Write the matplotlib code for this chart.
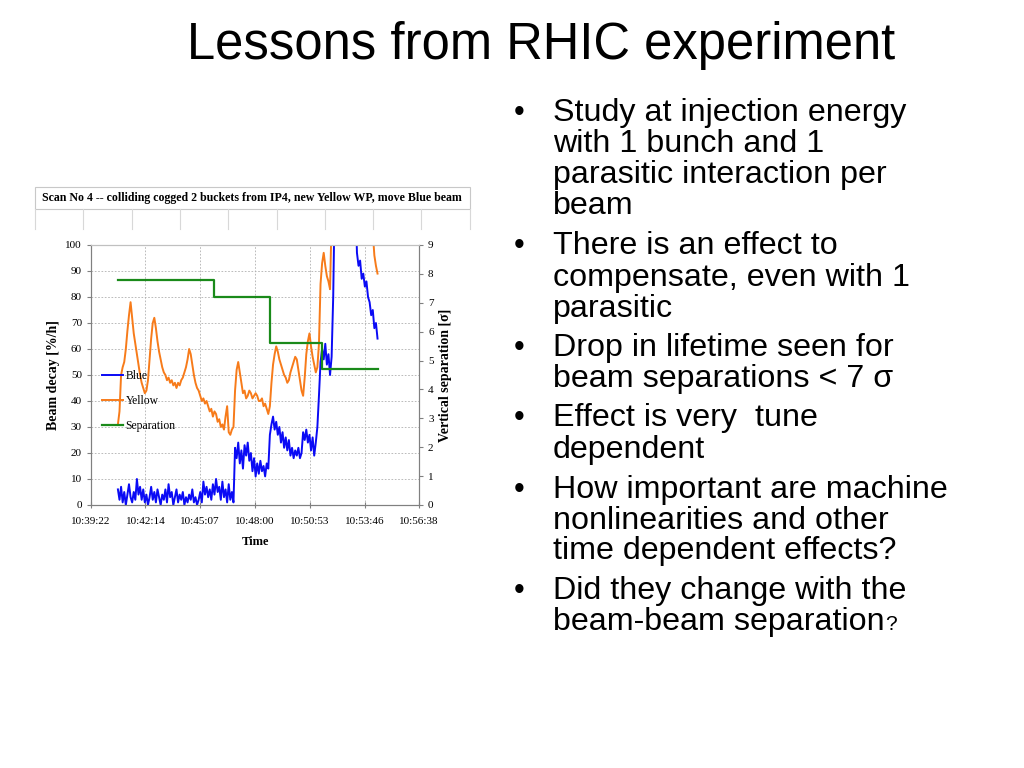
import numpy as np
import matplotlib
matplotlib.use("Agg")
import matplotlib.pyplot as plt
from matplotlib.patches import Rectangle
from matplotlib.lines import Line2D

# time axis (seconds after 10:39:22)
tick_labels = ["10:39:22", "10:42:14", "10:45:07", "10:48:00", "10:50:53", "10:53:46", "10:56:38"]
tick_secs = [0, 172, 345, 518, 691, 864, 1036]

# logger samples every 5 s starting at 10:40:47
t = np.arange(85, 910, 5)

yellow = [31, 36, 50, 53, 55, 60, 67, 73, 78, 72,
          66, 62, 58, 54, 50, 47, 45, 43, 44, 48,
          56, 64, 70, 72, 68, 63, 59, 56, 53, 51,
          50, 48, 49, 47, 48, 46, 47, 45, 47, 46,
          48, 49, 51, 53, 56, 60, 58, 54, 50, 47,
          45, 44, 42, 40, 41, 39, 40, 38, 36, 37,
          34, 36, 35, 32, 33, 30, 31, 29, 34, 38,
          28, 27, 29, 30, 44, 52, 55, 51, 47, 43,
          44, 41, 42, 44, 43, 41, 42, 43, 42, 40,
          40, 41, 38, 39, 37, 35, 38, 47, 54, 58,
          61, 59, 56, 54, 52, 50, 49, 47, 48, 51,
          53, 55, 57, 56, 52, 48, 44, 42, 49, 58,
          63, 66, 61, 57, 54, 51, 53, 62, 85, 93,
          97, 92, 88, 86, 83, 110, 120, 120, 120, 120,
          120, 120, 120, 120, 120, 120, 120, 120, 120, 120,
          120, 120, 120, 120, 120, 120, 120, 120, 120, 120,
          120, 105, 96, 92, 89]

blue = [6, 2, 7, 1, 5, 0, 4, 8, 3, 1,
        5, 2, 10, 4, 7, 2, 6, 1, 4, 0,
        3, 7, 2, 5, 1, 6, 3, 0, 4, 2,
        6, 1, 8, 3, 5, 0, 3, 6, 1, 4,
        2, 5, 0, 3, 1, 4, 2, 6, 1, 3,
        0, 2, 5, 1, 9, 4, 7, 3, 6, 2,
        8, 4, 10, 5, 7, 2, 9, 3, 6, 1,
        8, 2, 5, 1, 22, 18, 24, 16, 21, 14,
        23, 19, 24, 17, 20, 13, 18, 11, 16, 12,
        17, 13, 15, 11, 16, 14, 27, 31, 34, 29,
        32, 27, 30, 24, 28, 22, 26, 21, 25, 19,
        22, 18, 21, 19, 22, 18, 20, 28, 25, 29,
        24, 27, 21, 26, 19, 24, 30, 42, 55, 60,
        56, 62, 54, 58, 50, 57, 80, 120, 120, 120,
        120, 120, 120, 120, 120, 120, 120, 120, 120, 120,
        120, 97, 92, 94, 87, 89, 84, 86, 80, 78,
        73, 75, 68, 70, 64]

sep_t = [85, 389, 565, 730, 907]
sep_val = [7.8, 7.2, 5.6, 4.7, 4.7]

bullets = [
    ["Study at injection energy", "with 1 bunch and 1", "parasitic interaction per", "beam"],
    ["There is an effect to", "compensate, even with 1", "parasitic"],
    ["Drop in lifetime seen for", "beam separations < 7 σ"],
    ["Effect is very  tune", "dependent"],
    ["How important are machine", "nonlinearities and other", "time dependent effects?"],
    ["Did they change with the", "beam-beam separation"],
]

W, H = 1024, 768
fig = plt.figure(figsize=(W / 100, H / 100), dpi=100)
fig.patch.set_facecolor("white")

def fx(px):
    return px / W

def fy(py):
    return 1 - py / H

# slide title
fig.text(fx(541), fy(46), "Lessons from RHIC experiment", ha="center", va="center",
         fontsize=36.5, family="Liberation Sans")

# bullets
line_y = [[113, 144, 175, 206], [246, 278, 309], [348, 379], [418, 450],
          [490, 521, 551], [591, 622]]
for lines, ys in zip(bullets, line_y):
    fig.text(fx(514), fy(ys[0]), "•", ha="left", va="center", fontsize=22, family="Liberation Sans")
    for k, (s, y) in enumerate(zip(lines, ys)):
        if lines is bullets[-1] and k == len(lines) - 1:
            last = fig.text(fx(553), fy(y), s, ha="left", va="center", fontsize=23.2,
                            family="Liberation Sans")
        else:
            fig.text(fx(553), fy(y), s, ha="left", va="center", fontsize=23.2, family="Liberation Sans")
fig.canvas.draw()
bb = last.get_window_extent()
fig.text(bb.x1 / W, fy(624), "?", ha="left", va="center", fontsize=15, family="Liberation Sans")

# chart header (spreadsheet like cells)
fig.patches.append(Rectangle((fx(35), fy(209)), fx(470) - fx(35), fy(187) - fy(209),
                             transform=fig.transFigure, fill=False, ec="#c8c8c8", lw=0.8))
fig.text(fx(252), fy(198), "Scan No 4 -- colliding cogged 2 buckets from IP4, new Yellow WP, move Blue beam",
         ha="center", va="center", fontsize=8.6, family="Liberation Serif", weight="bold")
for xc in [35, 83, 132, 180, 228, 277, 325, 373, 421, 470]:
    fig.lines.append(Line2D([fx(xc), fx(xc)], [fy(209), fy(229)], transform=fig.transFigure,
                            color="#d8d8d8", lw=0.8))

ax = fig.add_axes([fx(91), fy(505), fx(419) - fx(91), fy(245) - fy(505)])
ax2 = ax.twinx()

lb, = ax.plot(t, blue, color="#0a0af5", lw=1.4, label="Blue")
ly, = ax.plot(t, yellow, color="#f77b1a", lw=1.4, label="Yellow")
ls, = ax2.plot(sep_t, sep_val, color="#1a8a1a", lw=1.6, drawstyle="steps-post", label="Separation")

ax.set_xlim(0, 1036)
ax.set_ylim(0, 100)
ax2.set_ylim(0, 9)
ax.set_xticks(tick_secs)
ax.set_xticklabels(tick_labels)
ax.set_yticks(range(0, 101, 10))
ax2.set_yticks(range(0, 10))
ax.grid(True, color="#b0b0b0", ls=(0, (2, 2)), lw=0.6)

for a in (ax, ax2):
    for sp in a.spines.values():
        sp.set_color("#808080")
        sp.set_linewidth(0.8)
    a.spines["top"].set_color("#c0c0c0")
    a.tick_params(labelsize=8, colors="#808080", length=3, width=0.8)
    for lab in a.get_xticklabels() + a.get_yticklabels():
        lab.set_family("Liberation Serif")
        lab.set_color("black")
ax.tick_params(axis="x", direction="inout", length=5, pad=6)

ax.set_xlabel("Time", family="Liberation Serif", weight="bold", fontsize=9, labelpad=7)
ax.set_ylabel("Beam decay [%/h]", family="Liberation Serif", weight="bold", fontsize=10, labelpad=4)
ax2.set_ylabel("Vertical separation [σ]", family="Liberation Serif", weight="bold", fontsize=10,
               rotation=90, labelpad=4)

leg = ax.legend(handles=[lb, ly, ls], loc="upper left", bbox_to_anchor=(0.02, 0.537),
                frameon=False, prop={"family": "Liberation Serif", "size": 8.4},
                handlelength=1.8, handletextpad=0.2, labelspacing=1.1, borderaxespad=0)

fig.savefig("out.png", dpi=100, facecolor="white")
